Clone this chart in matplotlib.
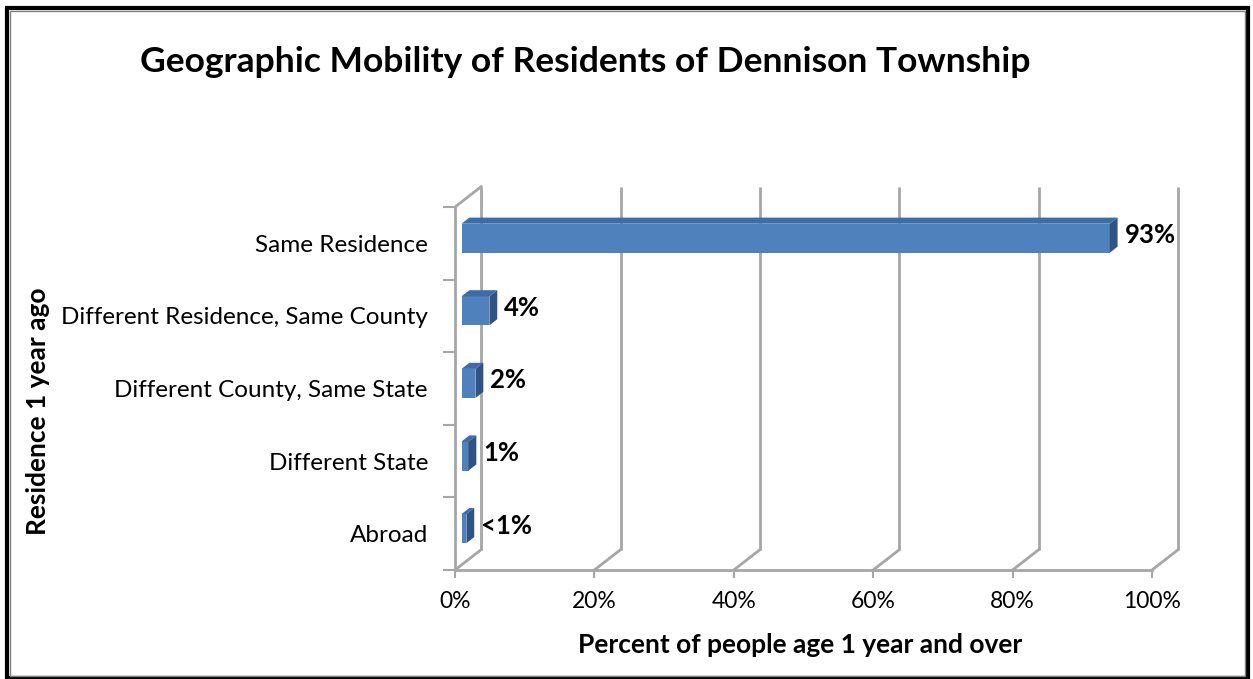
import matplotlib.pyplot as plt
from matplotlib.patches import Rectangle, Polygon

plt.rcParams['font.family'] = ['Lato', 'DejaVu Sans']

# residence one year ago, listed bottom to top
categories = ['Abroad', 'Different State', 'Different County, Same State',
              'Different Residence, Same County', 'Same Residence']
values = [0.7, 1, 2, 4, 93]
value_labels = ['<1%', '1%', '2%', '4%', '93%']
xticks = [0, 20, 40, 60, 80, 100]
xtick_labels = ['0%', '20%', '40%', '60%', '80%', '100%']

# depth offset of the back wall, in data units
DX, DY = 3.75, 0.28
D0, D1 = 0.25, 0.55   # bar depth span (fraction of full depth)
HH = 0.2              # half bar height

front = '#4F81BD'
top = '#3E6CA6'
side = '#2E5487'
grid = '#A6A6A6'

W, H = 1253, 679
fig = plt.figure(figsize=(W / 100, H / 100), dpi=100)
ax = fig.add_axes([455 / W, (H - 570) / H, 104.5 * 6.97 / W, 5.3 * 72.6 / H])
ax.set_xlim(0, 104.5)
ax.set_ylim(0, 5.3)

# back wall and floor lines
for x in xticks:
    ax.plot([x + DX, x + DX], [DY, 5 + DY], color=grid, lw=2, solid_capstyle='butt', zorder=1)
    ax.plot([x, x + DX], [0, DY], color=grid, lw=2, zorder=1)
ax.plot([0, DX], [5, 5 + DY], color=grid, lw=2, zorder=1)

# 3-D bars
for i, v in enumerate(values):
    yc = i + 0.5
    x0, y0 = D0 * DX, yc - HH + D0 * DY
    ax.add_patch(Rectangle((x0, y0), v, 2 * HH, facecolor=front, edgecolor='none', zorder=3))
    ax.add_patch(Polygon([(x0, y0 + 2 * HH), (x0 + v, y0 + 2 * HH),
                          (D1 * DX + v, yc + HH + D1 * DY), (D1 * DX, yc + HH + D1 * DY)],
                         closed=True, facecolor=top, edgecolor='none', zorder=3))
    ax.add_patch(Polygon([(x0 + v, y0), (D1 * DX + v, yc - HH + D1 * DY),
                          (D1 * DX + v, yc + HH + D1 * DY), (x0 + v, y0 + 2 * HH)],
                         closed=True, facecolor=side, edgecolor='none', zorder=3))
    ax.annotate(value_labels[i], (v + D1 * DX, yc + 0.4 * DY), xytext=(5, 0),
                textcoords='offset points', va='center', ha='left',
                fontsize=18.5, fontweight='bold', color='black')

for s in ['top', 'right']:
    ax.spines[s].set_visible(False)
for s in ['left', 'bottom']:
    ax.spines[s].set_color(grid)
    ax.spines[s].set_linewidth(2)
ax.spines['left'].set_bounds(0, 5)
ax.spines['bottom'].set_bounds(0, 100)

ax.set_xticks(xticks)
ax.set_xticklabels(xtick_labels, fontsize=16.5)
ax.tick_params(axis='x', length=6, width=1.5, color=grid, pad=9)
ax.set_yticks(range(6))
ax.set_yticklabels([])
ax.tick_params(axis='y', which='major', length=9, width=1.5, color=grid)
ax.set_yticks([i + 0.5 for i in range(5)], minor=True)
ax.set_yticklabels(categories, minor=True, fontsize=17.5)
ax.tick_params(axis='y', which='minor', length=0, pad=19.5)

fig.text(800 / W, 1 - 645 / H, 'Percent of people age 1 year and over',
         ha='center', va='center', fontsize=19, fontweight='bold')
fig.text(38 / W, 1 - 411 / H, 'Residence 1 year ago', rotation=90,
         ha='center', va='center', fontsize=19, fontweight='bold')
fig.text(585 / W, 1 - 62 / H, 'Geographic Mobility of Residents of Dennison Township',
         ha='center', va='center', fontsize=25.5, fontweight='bold')

# chart frame
fig.patches.append(Rectangle((7 / W, 1 / H), 1241 / W, 670 / H, transform=fig.transFigure,
                             fill=False, edgecolor='black', lw=3))
fig.patches.append(Rectangle((10 / W, 3 / H), 1235 / W, 665 / H, transform=fig.transFigure,
                             fill=False, edgecolor='#808080', lw=1))

fig.savefig('out.png', dpi=100)
